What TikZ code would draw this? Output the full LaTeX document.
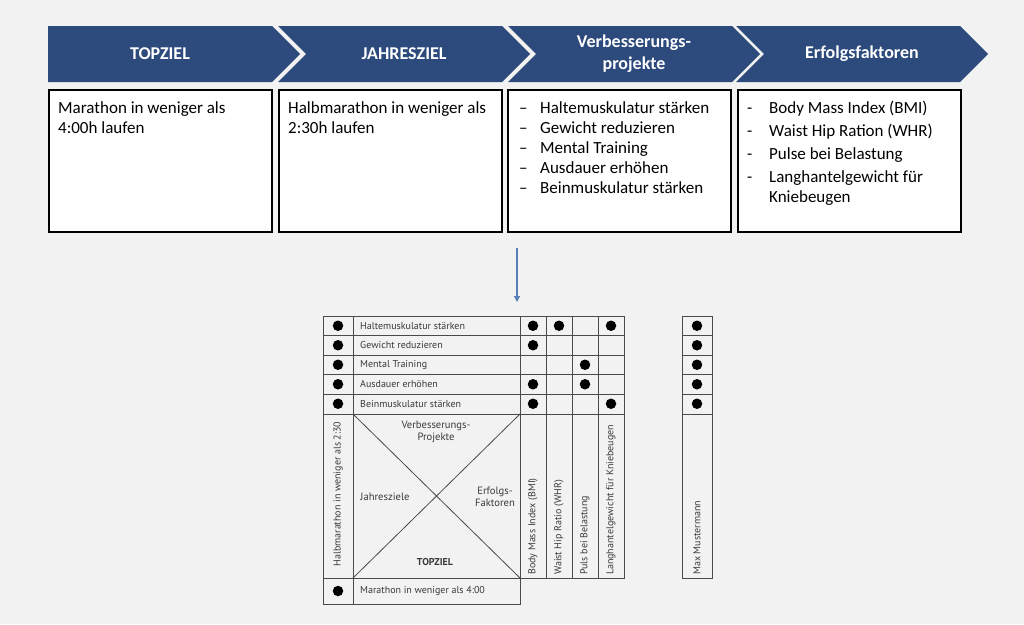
\documentclass[tikz,border=0pt]{standalone}
\usepackage{fontspec}
\setmainfont{Carlito}
\newfontfamily\matfont{PT Sans}
\usetikzlibrary{
  arrows.meta,
  shapes.symbols,
  positioning
}
\definecolor{hkBlue}{HTML}{2C4A7C}
\definecolor{hkArrow}{HTML}{5A7FB6}
\definecolor{hkBack}{HTML}{F2F2F2}
\definecolor{hkGrid}{HTML}{4A4A4A}
\definecolor{hkText}{HTML}{3A3A3A}
\tikzset{
  chev/.style={
    signal, signal to=east, signal pointer angle=90, fill=hkBlue,
    text=white, minimum width=252pt, minimum height=56pt, inner sep=0pt,
    align=center, font=\fontsize{18}{22}\selectfont\bfseries
  },
  chevin/.style={chev, signal from=west},
  txtbox/.style={
    draw, line width=2.2pt, fill=white, anchor=north west,
    minimum width=223pt, minimum height=142pt, inner sep=0pt
  },
  boxtext/.style={
    anchor=north west, align=left, inner sep=0pt,
    font=\fontsize{17}{20}\selectfont
  },
  gridline/.style={draw=hkGrid, line width=0.8pt},
  dot/.style={circle, fill=black, minimum size=10.5pt, inner sep=0pt},
  mattext/.style={font=\matfont\fontsize{10}{11.5}\selectfont, text=hkText, inner sep=0pt},
  xlabel/.style={mattext, align=center, font=\matfont\fontsize{10.6}{12}\selectfont},
  rowlabel/.style={mattext, anchor=west},
  collabel/.style={mattext, anchor=west, rotate=90},
  flow/.style={-{Triangle[length=6pt, width=6pt]}, line width=1.2pt, hkArrow}
}
\begin{document}
\begin{tikzpicture}[x=1pt, y=-1pt]
  \fill[hkBack] (0,0) rectangle (1024,624);
  \useasboundingbox (0,0) rectangle (1024,624);

  % Kopfzeile
  \node[chev]   (c1) at (160,54) {TOPZIEL};
  \node[chevin] (c2) at (404,54) {JAHRESZIEL};
  \node[chevin] (c3) at (634,54) {Verbesserungs-\\projekte};
  \node[chevin] (c4) at (862,54) {Erfolgsfaktoren};

  % Inhalte
  \node[txtbox] (b1) at (48,89) {};
  \node[txtbox] (b2) at (277.5,89) {};
  \node[txtbox] (b3) at (507,89) {};
  \node[txtbox] (b4) at (737,89) {};
  \node[boxtext] (t1) at (58,101) {Marathon in weniger als\\4:00h laufen};
  \node[boxtext] (t2) at (288,101) {Halbmarathon in weniger als\\2:30h laufen};
  \node[boxtext] (t3) at (519,101) {%
    \makebox[21pt][l]{–}Haltemuskulatur stärken\\
    \makebox[21pt][l]{–}Gewicht reduzieren\\
    \makebox[21pt][l]{–}Mental Training\\
    \makebox[21pt][l]{–}Ausdauer erhöhen\\
    \makebox[21pt][l]{–}Beinmuskulatur stärken};
  \node[boxtext] (t4) at (747,101) {%
    \makebox[22pt][l]{-}Body Mass Index (BMI)\\[3pt]
    \makebox[22pt][l]{-}Waist Hip Ration (WHR)\\[3pt]
    \makebox[22pt][l]{-}Pulse bei Belastung\\[3pt]
    \makebox[22pt][l]{-}Langhantelgewicht für\\
    \hspace*{22pt}Kniebeugen};

  \coordinate (a1) at (517,248);
  \coordinate (a2) at (517,302);
  \draw[flow] (a1) -- (a2);

  % X-Matrix
  \draw[gridline] (323,316) rectangle (520,604);
  \draw[gridline] (353,316) -- (353,604);
  \draw[gridline] (520,316) rectangle (624,578);
  \draw[gridline] (682,316) rectangle (712,578);
  \foreach \x in {546,572,598}
    \draw[gridline] (\x,316) -- (\x,578);
  \foreach \y in {335.5,355,374.5,394,414} {
    \draw[gridline] (323,\y) -- (624,\y);
    \draw[gridline] (682,\y) -- (712,\y);
  }
  \draw[gridline] (323,578) -- (624,578);
  \draw[gridline] (353,414) -- (520,578);
  \draw[gridline] (353,578) -- (520,414);

  \foreach \i/\name in {
    1/Haltemuskulatur stärken,
    2/Gewicht reduzieren,
    3/Mental Training,
    4/Ausdauer erhöhen,
    5/Beinmuskulatur stärken}{
    \node[rowlabel] (r\i) at (360,{306.25+19.5*\i}) {\name};
    \node[dot] (d\i) at (338,{306.25+19.5*\i}) {};
    \node[dot] (m\i) at (697,{306.25+19.5*\i}) {};
  }
  \foreach \i/\j in {1/1, 1/2, 1/4, 2/1, 3/3, 4/1, 4/3, 5/1, 5/4}
    \node[dot] (p\i\j) at ({507+26*\j},{306.25+19.5*\i}) {};

  \foreach \j/\name in {
    1/Body Mass Index (BMI),
    2/Waist Hip Ratio (WHR),
    3/Puls bei Belastung,
    4/Langhantelgewicht für Kniebeugen}{
    \node[collabel] (k\j) at ({507+26*\j},575) {\name};
  }
  \node[collabel] (max) at (697,575) {Max Mustermann};
  \node[mattext, rotate=90] (jz) at (338,494) {Halbmarathon in weniger als 2:30};

  \node[xlabel] (xv) at (436,432) {Verbesserungs-\\Projekte};
  \node[xlabel] (xj) at (385,497) {Jahresziele};
  \node[xlabel] (xe) at (495,497) {Erfolgs-\\Faktoren};
  \node[xlabel, font=\matfont\bfseries\fontsize{10}{12}\selectfont] (xt) at (435,562) {TOPZIEL};

  \node[dot] (d6) at (338,591) {};
  \node[rowlabel] (r6) at (360,591) {Marathon in weniger als 4:00};
\end{tikzpicture}
\end{document}
